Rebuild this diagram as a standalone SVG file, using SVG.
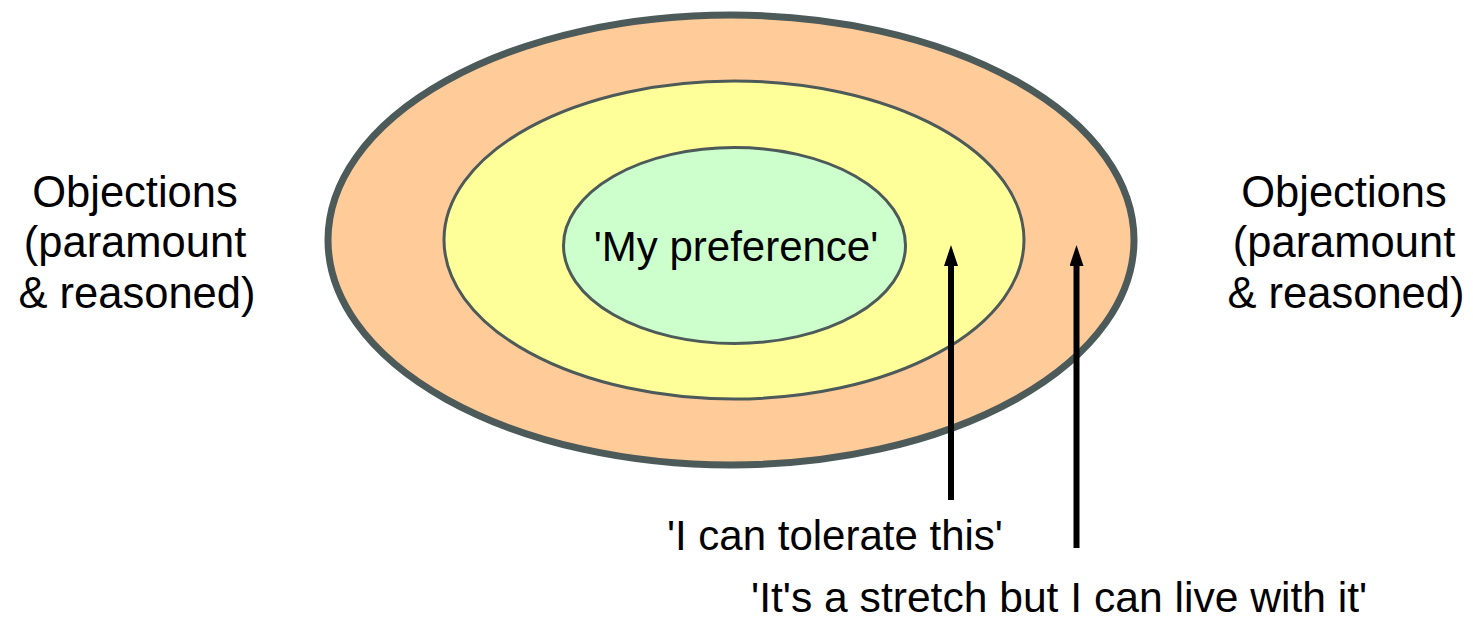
<svg xmlns="http://www.w3.org/2000/svg" width="1473" height="619" viewBox="0 0 1473 619">
<defs>
<style>
text{font-family:"Liberation Sans",Arial,sans-serif;font-size:42px;fill:#000}
.c{text-anchor:middle}
.obj{font-size:43.5px}
.big{font-size:42.6px}
.ring{stroke:#4d5a5a}
.arr{stroke:#000;stroke-width:6;fill:none}
</style>
<marker id="ah" viewBox="0 0 21 14" refX="2" refY="7" markerWidth="21" markerHeight="14" orient="auto" markerUnits="userSpaceOnUse">
<path d="M0,0 L21,7 L0,14 z" fill="#000"/>
</marker>
</defs>
<rect width="1473" height="619" fill="#fff"/>
<g id="outer"><ellipse class="ring" cx="731" cy="240" rx="403" ry="225" fill="#ffcc99" stroke-width="7"/></g>
<g id="middle"><ellipse class="ring" cx="734" cy="240" rx="290" ry="159" fill="#ffff99" stroke-width="3"/></g>
<g id="inner"><ellipse class="ring" cx="734.5" cy="245.5" rx="171" ry="98" fill="#ccffcc" stroke-width="3"/>
<text class="c" x="736" y="261">'My preference'</text></g>
<g id="left-label"><text class="c obj" x="135" y="207">Objections</text><text class="c obj" x="135" y="257">(paramount</text><text class="c obj" x="137" y="308">&amp; reasoned)</text></g>
<g id="right-label"><text class="c obj" x="1344" y="207">Objections</text><text class="c obj" x="1344" y="257">(paramount</text><text class="c obj" x="1346" y="308">&amp; reasoned)</text></g>
<g id="connectors">
<line class="arr" x1="951" y1="500" x2="951" y2="264" marker-end="url(#ah)"/>
<line class="arr" x1="1076.5" y1="548" x2="1076.5" y2="264" marker-end="url(#ah)"/>
</g>
<g id="label-tolerate"><text x="667" y="550">'I can tolerate this'</text></g>
<g id="label-stretch"><text class="big" x="751" y="612">'It's a stretch but I can live with it'</text></g>
</svg>
